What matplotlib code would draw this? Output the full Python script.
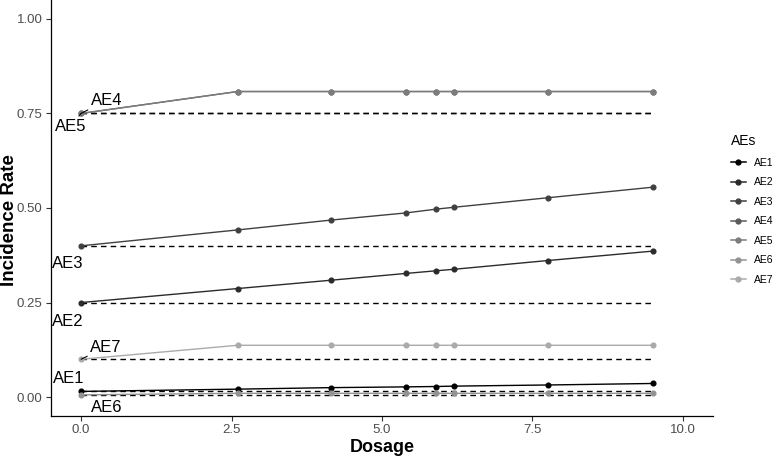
import matplotlib
matplotlib.use('Agg')
import matplotlib.pyplot as plt
from matplotlib.lines import Line2D

plt.rcParams['font.family'] = ['Liberation Sans', 'DejaVu Sans']

# dosage values (x) shared by every AE
dosage = [0, 2.6, 4.15, 5.4, 5.9, 6.2, 7.75, 9.5]

ae_names = ['AE1', 'AE2', 'AE3', 'AE4', 'AE5', 'AE6', 'AE7']
ae1 = [0.015, 0.021, 0.025, 0.027, 0.028, 0.029, 0.032, 0.036]
ae2 = [0.25, 0.287, 0.309, 0.327, 0.334, 0.338, 0.361, 0.386]
ae3 = [0.40, 0.442, 0.468, 0.487, 0.497, 0.502, 0.527, 0.555]
ae4 = [0.75, 0.808, 0.808, 0.808, 0.808, 0.808, 0.808, 0.808]
ae5 = [0.75, 0.808, 0.808, 0.808, 0.808, 0.808, 0.808, 0.808]
ae6 = [0.006, 0.01, 0.01, 0.01, 0.01, 0.01, 0.01, 0.01]
ae7 = [0.10, 0.137, 0.137, 0.137, 0.137, 0.137, 0.137, 0.137]
series = [ae1, ae2, ae3, ae4, ae5, ae6, ae7]

greys = ['#000000', '#2b2b2b', '#404040', '#5a5a5a', '#7c7c7c', '#939393', '#aaaaaa']

fig = plt.figure(figsize=(7.78, 4.59), dpi=100)
ax = fig.add_axes([51/778, 43/459, 662/778, 416/459])

# baseline dashed lines
for vals in series:
    ax.plot([dosage[0], dosage[-1]], [vals[0], vals[0]], color='black',
            linestyle=(0, (4, 3)), linewidth=1.0, zorder=1)

for name, vals, c in zip(ae_names, series, greys):
    ax.plot(dosage, vals, color=c, linewidth=1.0, marker='o', markersize=3.4,
            zorder=2)

# labels (repel-style)
lab = dict(fontsize=12, ha='center', va='center', color='black')
seg = dict(arrowstyle='-', color='black', lw=0.8, shrinkA=0, shrinkB=0)
ax.annotate('AE4', xy=(0, ae4[0]), xytext=(0.42, 0.785), arrowprops=seg, **lab)
ax.annotate('AE5', xy=(0, ae5[0]), xytext=(-0.18, 0.716), arrowprops=seg, **lab)
ax.text(-0.22, 0.352, 'AE3', **lab)
ax.text(-0.22, 0.199, 'AE2', **lab)
ax.annotate('AE7', xy=(0, ae7[0]), xytext=(0.41, 0.132), arrowprops=seg, **lab)
ax.text(-0.2, 0.05, 'AE1', **lab)
ax.text(0.43, -0.027, 'AE6', **lab)

ax.set_xlim(-0.5, 10.5)
ax.set_ylim(-0.05, 1.05)
ax.set_xticks([0, 2.5, 5, 7.5, 10])
ax.set_xticklabels(['0.0', '2.5', '5.0', '7.5', '10.0'])
ax.set_yticks([0, 0.25, 0.5, 0.75, 1.0])
ax.set_yticklabels(['0.00', '0.25', '0.50', '0.75', '1.00'])
ax.tick_params(labelsize=9.5, colors='#333333', length=3.5, width=0.8, pad=2.5)
ax.tick_params(axis='both', labelcolor='#4d4d4d')
for s in ['top', 'right']:
    ax.spines[s].set_visible(False)
for s in ['left', 'bottom']:
    ax.spines[s].set_linewidth(0.9)

ax.set_xlabel('Dosage', fontsize=13, fontweight='bold', labelpad=2)
ax.set_ylabel('Incidence Rate', fontsize=13.5, fontweight='bold')
ax.yaxis.set_label_coords(-0.05, 0.47)

handles = [Line2D([], [], color=c, marker='o', markersize=3.5, linewidth=1.1)
           for c in greys]
leg = fig.legend(handles, ae_names, title='AEs', loc='upper left',
                 bbox_to_anchor=(731/778, 1 - 134/459), frameon=False,
                 fontsize=7.5, title_fontsize=10, handlelength=1.4,
                 handletextpad=0.8, labelspacing=0.92, borderpad=0,
                 borderaxespad=0, alignment='left')

fig.savefig('out.png', dpi=100)
